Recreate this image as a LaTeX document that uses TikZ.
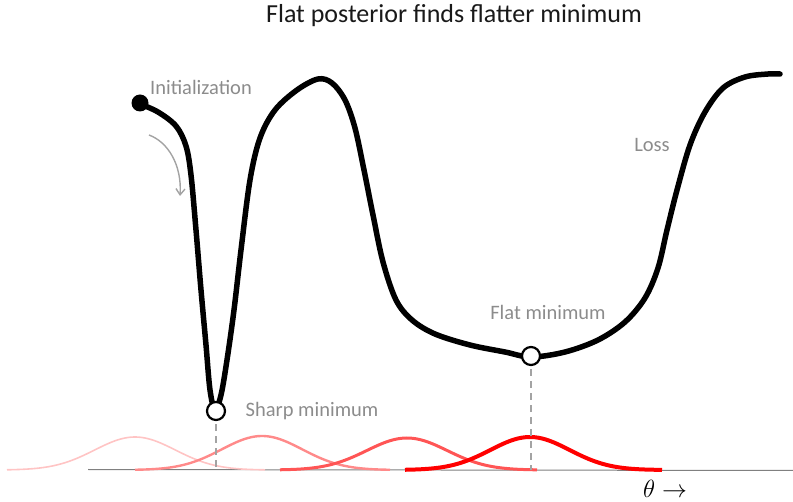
\documentclass[tikz,border=0pt]{standalone}
\usepackage{fontspec}
\setmainfont{Carlito}
\usetikzlibrary{arrows.meta}
\definecolor{lbl}{HTML}{8C8C8C}
\definecolor{g1}{HTML}{FFC4C4}
\definecolor{g2}{HTML}{FF8A8A}
\definecolor{g3}{HTML}{FF5555}
\definecolor{g4}{HTML}{FF0000}
\tikzset{
  lossline/.style={line width=5.5pt, line cap=round, line join=round, black},
  minnode/.style={circle, draw=black, fill=white, line width=2.2pt, minimum size=18pt, inner sep=0pt},
  initnode/.style={circle, fill=black, minimum size=17pt, inner sep=0pt},
  lbltext/.style={text=lbl, font=\fontsize{20.5}{22}\selectfont, inner sep=0pt},
  guide/.style={dashed, draw=lbl!80, line width=1.8pt, dash pattern=on 7pt off 5pt},
  gauss/.style={line cap=butt},
}
\begin{document}
\begin{tikzpicture}[x=1pt,y=-1pt]
\useasboundingbox (0,0) rectangle (793,502);
% title
\node[font=\fontsize{26}{28}\selectfont, text=black!90] (title) at (454,16) {Flat posterior finds flatter minimum};
% axis
\coordinate (axl) at (88,469.5);
\coordinate (axr) at (793,470.5);
\draw[draw=gray, line width=1pt] (axl) -- (axr);
% gaussians
\draw[g1, line width=1.6pt, gauss] plot[domain=-128:130, samples=80] ({135+\x},{470-33*exp(-(\x/57)^2)});
\draw[g2, line width=2.4pt, gauss] plot[domain=-127:128, samples=80] ({262+\x},{470-34*exp(-(\x/57)^2)});
\draw[g3, line width=3pt, gauss] plot[domain=-127:130, samples=80] ({407+\x},{470-32*exp(-(\x/57)^2)});
\draw[g4, line width=4pt, gauss] plot[domain=-125:132, samples=80] ({530+\x},{470-33*exp(-(\x/56)^2)});
% loss curve
\draw[lossline] plot[smooth, tension=0.55] coordinates {
 (140,104) (158,112) (176,126) (186,146) (191,175) (196,230) (201,290) (206,345) (210,390) (215,410)
 (221,395) (227,360) (234,310) (241,250) (250,180) (260,138) (275,110) (297,90) (318,79) (332,83)
 (345,100) (355,128) (364,170) (373,215) (383,262) (396,300) (412,320) (435,334) (470,345) (505,352) (531,357)
 (565,352) (598,340) (625,322) (645,298) (658,268) (667,230) (677,190) (690,145) (705,112) (723,88) (745,77) (768,74) (780,74)};
% nodes
\node[initnode] (init) at (140,103) {};
\node[minnode] (sharp) at (216,411) {};
\node[minnode] (flat) at (531,356) {};
% guides
\coordinate (sharpbase) at (216,468);
\coordinate (flatbase) at (531,470);
\draw[guide] (sharp.south) ++(0,3) -- (sharpbase);
\draw[guide] (flat.south) ++(0,3) -- (flatbase);
% arrow
\coordinate (arrs) at (149,135);
\coordinate (arre) at (180,196);
\draw[draw=lbl!80, line width=1.4pt, -{Straight Barb[length=6pt,width=9pt]}] (arrs) .. controls (168,142) and (182,165) .. (arre);
% labels
\node[lbltext] (linit) at (201,87) {Initialization};
\node[lbltext] (lsharp) at (312,411) {Sharp minimum};
\node[lbltext] (lflat) at (548,312) {Flat minimum};
\node[lbltext] (lloss) at (652,145) {Loss};
\node[font=\fontsize{25}{27}\selectfont, inner sep=0pt] (theta) at (665,488.5) {$\theta\rightarrow$};
\end{tikzpicture}
\end{document}
